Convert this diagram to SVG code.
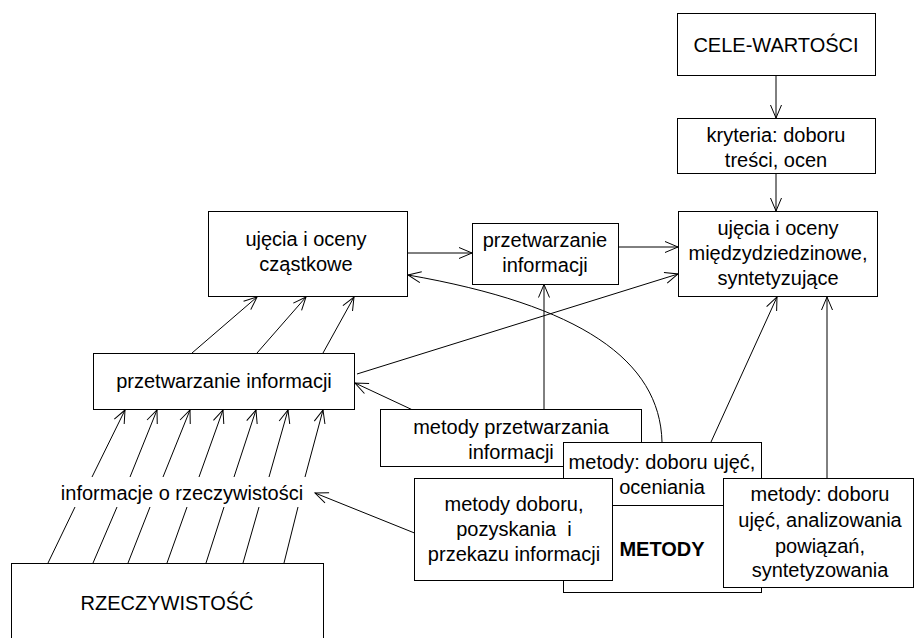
<svg xmlns="http://www.w3.org/2000/svg" width="915" height="638" viewBox="0 0 915 638">
<style>
.box{fill:#fff;stroke:#000;stroke-width:1}
.ln{fill:none;stroke:#000;stroke-width:1}
.ar{fill:none;stroke:#000;stroke-width:1;marker-end:url(#arr)}
text{font-family:"Liberation Sans",Arial,sans-serif;font-size:20px;text-anchor:middle;fill:#000}
.b{font-weight:bold}
</style>
<defs>
<marker id="arr" markerUnits="userSpaceOnUse" markerWidth="16" markerHeight="14" refX="14" refY="7" orient="auto" overflow="visible">
<path d="M1,1.5 L14,7 L1,12.5" fill="none" stroke="#000" stroke-width="1"/>
</marker>
</defs>
<rect width="915" height="638" fill="#fff"/>
<g id="connectors">
<path class="ar" d="M776,75.5 L776,118"/>
<path class="ar" d="M776,173.5 L776,211"/>
<path class="ar" d="M407.5,253 L472,253"/>
<path class="ar" d="M618.5,247 L678,247"/>
<path class="ar" d="M357,374 L678,274"/>
<path class="ar" d="M411.7,409.5 L355,383"/>
<path class="ar" d="M544,409.5 L544,284.5"/>
<path class="ar" d="M662,442 C660,360 580,305 408,275"/>
<path class="ar" d="M711,442 L777,297"/>
<path class="ar" d="M827,478 L827,297"/>
<path class="ar" d="M414.5,533 L315,493"/>
<path class="ar" d="M192,353 L257,297"/>
<path class="ar" d="M257,353 L306,297"/>
<path class="ar" d="M323,353 L354,297"/>
<path class="ar" d="M92,477 L125,410"/>
<path class="ar" d="M130,477 L157,410"/>
<path class="ar" d="M163,477 L190,410"/>
<path class="ar" d="M199,477 L223,410"/>
<path class="ar" d="M234,477 L256,410"/>
<path class="ar" d="M269,477 L288,410"/>
<path class="ar" d="M305,477 L323,410"/>
<path class="ln" d="M48,563 L75,507 M93,563 L117,507 M128,563 L150,507 M167,563 L187,507 M206,563 L224,507 M243,563 L259,507 M284,563 L298,507"/>
</g>
<g id="n-cele">
<rect class="box" x="677.5" y="13.5" width="198" height="62"/>
<text x="776" y="52">CELE-WARTOŚCI</text>
</g>
<g id="n-kryteria">
<rect class="box" x="677.5" y="118.5" width="198" height="55"/>
<text x="776" y="142">kryteria: doboru</text>
<text x="776" y="167">treści, ocen</text>
</g>
<g id="n-miedzy">
<rect class="box" x="678.5" y="211.5" width="199" height="85"/>
<text x="778" y="235">ujęcia i oceny</text>
<text x="778" y="260">międzydziedzinowe,</text>
<text x="778" y="285">syntetyzujące</text>
</g>
<g id="n-przetw2">
<rect class="box" x="472.5" y="223.5" width="146" height="61"/>
<text x="545" y="247">przetwarzanie</text>
<text x="545" y="272">informacji</text>
</g>
<g id="n-czastkowe">
<rect class="box" x="208.5" y="211.5" width="199" height="85"/>
<text x="306" y="246">ujęcia i oceny</text>
<text x="306" y="271">cząstkowe</text>
</g>
<g id="n-przetw1">
<rect class="box" x="93.5" y="353.5" width="261" height="56"/>
<text x="224" y="388">przetwarzanie informacji</text>
</g>
<g id="n-info">
<text x="182" y="500">informacje o rzeczywistości</text>
</g>
<g id="n-rzecz">
<rect class="box" x="11.5" y="563.5" width="312" height="90"/>
<text x="167" y="610">RZECZYWISTOŚĆ</text>
</g>
<g id="n-metprzetw">
<rect class="box" x="380.5" y="409.5" width="261" height="57"/>
<text x="511" y="434">metody przetwarzania</text>
<text x="511" y="459">informacji</text>
</g>
<g id="n-metody">
<rect class="box" x="563.5" y="442.5" width="198" height="150"/>
<path class="ln" d="M563.5,505.5 L761.5,505.5"/>
<text x="662" y="469">metody: doboru ujęć,</text>
<text x="662" y="494">oceniania</text>
<text class="b" x="662" y="556">METODY</text>
</g>
<g id="n-pozysk">
<rect class="box" x="414.5" y="478.5" width="198" height="102"/>
<text x="514" y="511">metody doboru,</text>
<text x="514" y="536" xml:space="preserve">pozyskania  i</text>
<text x="514" y="561">przekazu informacji</text>
</g>
<g id="n-syntez">
<rect class="box" x="723.5" y="478.5" width="190" height="109"/>
<text x="820" y="501">metody: doboru</text>
<text x="820" y="527">ujęć, analizowania</text>
<text x="820" y="553">powiązań,</text>
<text x="820" y="577">syntetyzowania</text>
</g>
</svg>
